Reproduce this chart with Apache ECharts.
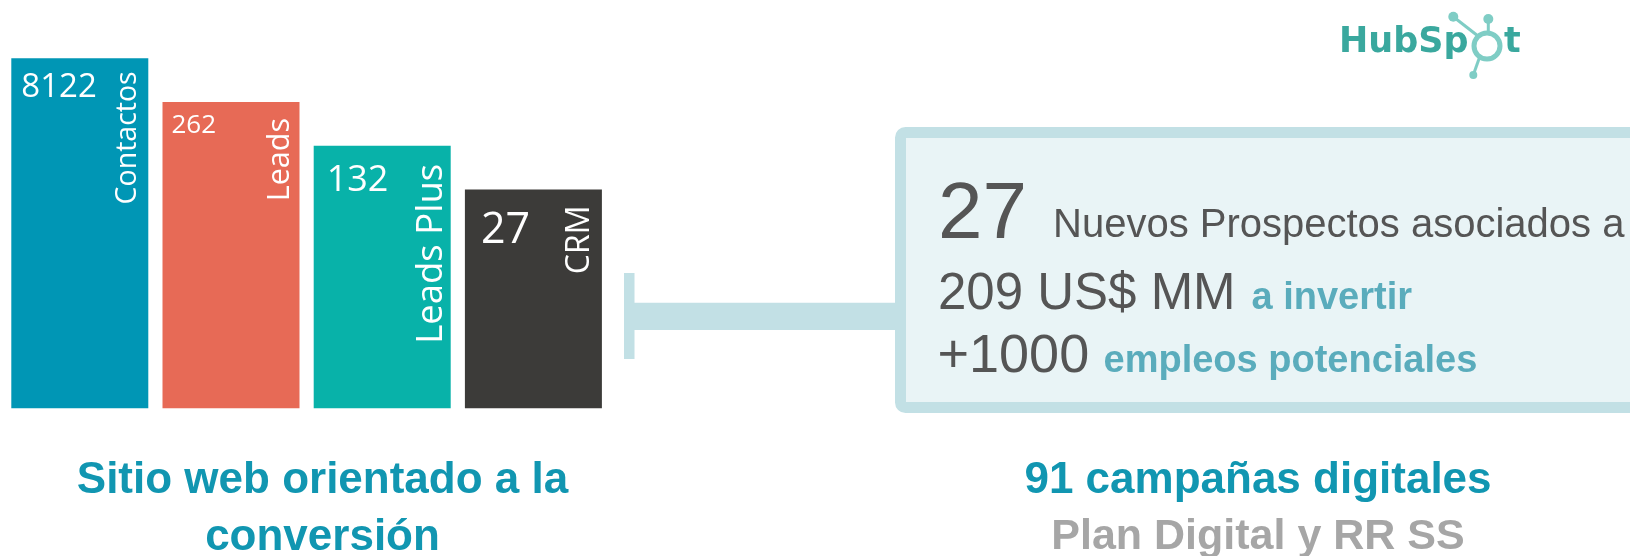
<!DOCTYPE html>
<html><head><meta charset="utf-8">
<script src="https://cdn.jsdelivr.net/npm/echarts@6/dist/echarts.min.js"></script>
<style>html,body{margin:0;padding:0;background:#fff}#c{width:1630px;height:556px}</style>
</head><body><div id="c"></div>
<script>
// ---- data ----
const stages = ['Contactos', 'Leads', 'Leads Plus', 'CRM'];
const stageCounts = [8122, 262, 132, 27];
const stageSteps = [8, 7, 6, 5];          // staircase level of each funnel step (visual)
const prospectCount = '27';
const prospectText = 'Nuevos Prospectos asociados a';
const investLine = ['209 US$ MM', 'a invertir'];
const jobsLine = ['+1000', 'empleos potenciales'];
const leftCaption = ['Sitio web orientado a la', 'conversión'];
const rightCaption = ['91 campañas digitales', 'Plan Digital y RR SS'];
const logoParts = ['HubSp', 't'];

// ---- styles ----
const stageColors = ['#0096b5', '#e76a56', '#08b2a9', '#3c3b39'];
const valueFont = [33, 26, 36, 43];
const valuePos = [[10, 13], [9, 11], [13, 17], [16, 20]];
const nameFont = [28.5, 30.5, 36.5, 32];
const namePad = [[0, 13, 6, 0], [0, 16, 4, 0], [0, 18, 1, 0], [0, 16, 6, 0]];
const DARK = '#555555', ACCENT = '#5aacbc', CAP = '#1196b1', GREY = '#a6a6a6', LINE = '#c2e0e5';
const SANS = '"Liberation Sans", Arial, sans-serif';
const LABEL_FONT = '"Open Sans", sans-serif';

const chart = echarts.init(document.getElementById('c'), null, {renderer: 'canvas'});

function txt(x, y, text, size, color, bold, align) {
  return {type: 'text', x: x, y: y, silent: true, z: 10,
    style: {text: text, fill: color, font: (bold ? 'bold ' : '') + size + 'px ' + SANS,
      textAlign: align || 'left', textVerticalAlign: 'middle'}};
}

const graphics = [
  // connector
  {type: 'rect', z: 1, silent: true, shape: {x: 624, y: 273, width: 10.5, height: 86}, style: {fill: LINE}},
  {type: 'rect', z: 1, silent: true, shape: {x: 634, y: 302.7, width: 266, height: 27.3}, style: {fill: LINE}},
  // box
  {type: 'rect', z: 2, silent: true, shape: {x: 900.5, y: 132.5, width: 800, height: 275, r: 5},
    style: {fill: '#e9f4f6', stroke: LINE, lineWidth: 11}},
  txt(938, 215.5, prospectCount, 80, DARK, false),
  txt(1053, 225.5, prospectText, 40, DARK, false),
  txt(938, 295, investLine[0], 51, DARK, false),
  txt(1251.5, 298.2, investLine[1], 38, ACCENT, true),
  txt(937.5, 357, jobsLine[0], 54, DARK, false),
  txt(1103.5, 361.1, jobsLine[1], 38, ACCENT, true),
  // captions
  txt(322.5, 481.1, leftCaption[0], 44, CAP, true, 'center'),
  txt(322.5, 537.6, leftCaption[1], 44, CAP, true, 'center'),
  txt(1258, 480.6, rightCaption[0], 44, CAP, true, 'center'),
  txt(1258, 537.1, rightCaption[1], 43, GREY, true, 'center'),
  // logo
  {type: 'text', x: 1339, y: 43, silent: true, z: 10,
    style: {text: logoParts[0], fill: '#3aa89e', font: 'bold 35px "DejaVu Sans", sans-serif', textVerticalAlign: 'middle'}},
  {type: 'text', x: 1504, y: 43, silent: true, z: 10,
    style: {text: logoParts[1], fill: '#3aa89e', font: 'bold 35px "DejaVu Sans", sans-serif', textVerticalAlign: 'middle'}},
  {type: 'line', silent: true, z: 9, shape: {x1: 1453.3, y1: 16.7, x2: 1478, y2: 36}, style: {stroke: '#7fcdc5', lineWidth: 3}},
  {type: 'line', silent: true, z: 9, shape: {x1: 1488.3, y1: 19, x2: 1488.3, y2: 32}, style: {stroke: '#7fcdc5', lineWidth: 3}},
  {type: 'line', silent: true, z: 9, shape: {x1: 1473.3, y1: 75, x2: 1480, y2: 56}, style: {stroke: '#7fcdc5', lineWidth: 3}},
  {type: 'circle', silent: true, z: 10, shape: {cx: 1453.3, cy: 16.7, r: 5}, style: {fill: '#7fcdc5'}},
  {type: 'circle', silent: true, z: 10, shape: {cx: 1488.3, cy: 19, r: 5}, style: {fill: '#7fcdc5'}},
  {type: 'circle', silent: true, z: 10, shape: {cx: 1473.3, cy: 75, r: 4}, style: {fill: '#7fcdc5'}},
  {type: 'circle', silent: true, z: 10, shape: {cx: 1487, cy: 46, r: 13}, style: {fill: 'none', stroke: '#7fcdc5', lineWidth: 5}}
];

chart.setOption({
  animation: false,
  backgroundColor: '#ffffff',
  grid: {left: 4.2, top: 58.3, width: 604.8, height: 350},
  xAxis: {type: 'category', data: stages, show: false},
  yAxis: {type: 'value', min: 0, max: 8, show: false},
  series: [
    {
      type: 'bar', barWidth: 137, barGap: '-100%', silent: true,
      data: stageSteps.map((v, i) => ({
        value: v,
        itemStyle: {color: stageColors[i]},
        label: {fontSize: valueFont[i], lineHeight: valueFont[i], position: valuePos[i]}
      })),
      label: {show: true, color: '#fff', fontFamily: LABEL_FONT, align: 'left', verticalAlign: 'top',
        formatter: p => String(stageCounts[p.dataIndex])}
    },
    {
      type: 'bar', barWidth: 137, barGap: '-100%', silent: true, z: 3,
      data: stageSteps.map((v, i) => ({
        value: v,
        label: {fontSize: nameFont[i], lineHeight: nameFont[i], padding: namePad[i]}
      })),
      itemStyle: {color: 'rgba(0,0,0,0)'},
      label: {show: true, color: '#fff', fontFamily: LABEL_FONT, formatter: '{b}', rotate: 90,
        position: ['100%', 0], align: 'right', verticalAlign: 'bottom'}
    }
  ],
  graphic: graphics
});
</script>
</body></html>
